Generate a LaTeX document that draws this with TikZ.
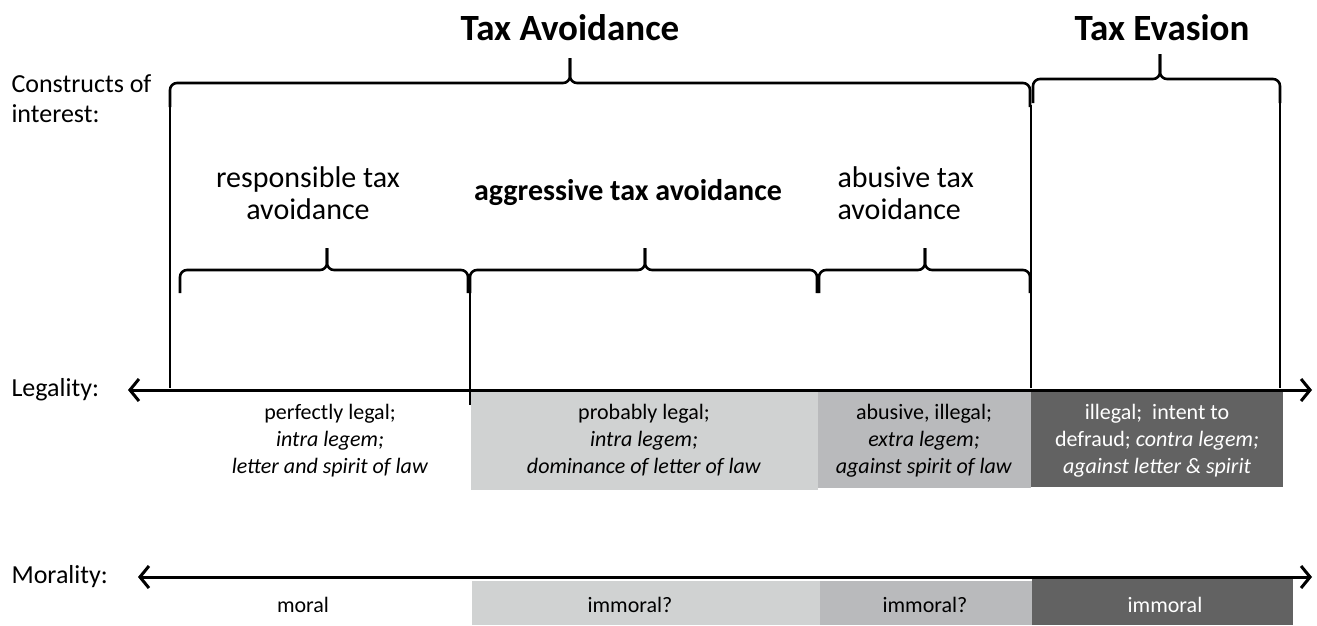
\documentclass[tikz,border=0pt]{standalone}
\usepackage{fontspec}
\setmainfont{Carlito}
\usetikzlibrary{arrows.meta}

\definecolor{lightbox}{HTML}{D0D2D2}
\definecolor{midbox}{HTML}{B9BABC}
\definecolor{darkbox}{HTML}{626262}

\tikzset{
    bracket/.style = {line width = 2.6pt, rounded corners = 7pt},
    guide/.style = {line width = 1.1pt},
    scalearrow/.style = {line width = 3pt, {Straight Barb[length = 9pt, width = 22pt]}-{Straight Barb[length = 9pt, width = 22pt]}},
    boxtext/.style = {font = {\fontsize{22}{27}\selectfont}, align = center, black},
    sidelabel/.style = {font = {\fontsize{26}{30}\selectfont}, align = left, anchor = west, black},
    kindlabel/.style = {font = {\fontsize{30}{32}\selectfont}, black},
    title/.style = {font = {\fontsize{37}{40}\selectfont\bfseries}, black}
}

\begin{document}
\begin{tikzpicture}[x = 1pt, y = -1pt]
            \useasboundingbox (0, 0) rectangle (1317, 625);

            % shaded columns
            \fill[lightbox] (471, 392) rectangle (818, 490);
            \fill[midbox] (818, 392) rectangle (1031, 488);
            \fill[darkbox] (1031, 390) rectangle (1283, 487);
            \fill[lightbox] (472, 581) rectangle (820, 625);
            \fill[midbox] (820, 581) rectangle (1032, 625);
            \fill[darkbox] (1032, 579) rectangle (1293, 625);

            % titles
            \node[title] (avoid) at (570, 28) {Tax Avoidance};
            \node[title] (evade) at (1162, 28) {Tax Evasion};

            % upper braces
            \draw[bracket] (170, 107) -- (170, 83) -- (570, 83) -- (570, 58);
            \draw[bracket] (570, 58) -- (570, 83) -- (1030, 83) -- (1030, 107);
            \draw[bracket] (1033, 103) -- (1033, 79) -- (1160, 79) -- (1160, 54);
            \draw[bracket] (1160, 54) -- (1160, 79) -- (1280, 79) -- (1280, 103);

            % lower braces
            \draw[bracket] (180, 293) -- (180, 270) -- (327, 270) -- (327, 248);
            \draw[bracket] (327, 248) -- (327, 270) -- (468, 270) -- (468, 293);
            \draw[bracket] (470, 293) -- (470, 270) -- (645, 270) -- (645, 248);
            \draw[bracket] (645, 248) -- (645, 270) -- (817, 270) -- (817, 293);
            \draw[bracket] (819, 293) -- (819, 270) -- (925, 270) -- (925, 248);
            \draw[bracket] (925, 248) -- (925, 270) -- (1030, 270) -- (1030, 293);

            % guide lines
            \draw[guide] (170, 107) -- (170, 388);
            \draw[guide] (1031, 105) -- (1031, 388);
            \draw[guide] (1280, 103) -- (1280, 388);
            \draw[guide] (470, 293) -- (470, 388);
            \draw[line width = 2.6pt] (470, 378) -- (470, 405);

            % side labels
            \node[sidelabel] (constructs) at (8, 99) {Constructs of\\interest:};
            \node[sidelabel] (legality) at (8, 390) {Legality:};
            \node[sidelabel] (morality) at (8, 577) {Morality:};

            % axes
            \coordinate (legleft) at (128, 390);
            \coordinate (legright) at (1312, 390);
            \coordinate (morleft) at (138, 577);
            \coordinate (morright) at (1312, 577);
            \draw[scalearrow] (legleft) -- (legright);
            \draw[scalearrow] (morleft) -- (morright);

            % kinds of avoidance
            \node[kindlabel, align = center] (responsible) at (308, 193) {responsible tax\\avoidance};
            \node[kindlabel, font = {\fontsize{30}{32}\selectfont\bfseries}] (aggressive) at (628, 193) {aggressive tax avoidance};
            \node[kindlabel, align = left, anchor = west] (abusive) at (834, 193) {abusive tax\\avoidance};

            % legality texts
            \node[boxtext, anchor = north] (legal1) at (330, 401) {perfectly legal;\\\textit{intra legem;}\\\textit{letter and spirit of law}};
            \node[boxtext, anchor = north] (legal2) at (644, 401) {probably legal;\\\textit{intra legem;}\\\textit{dominance of letter of law}};
            \node[boxtext, anchor = north] (legal3) at (924, 401) {abusive, illegal;\\\textit{extra legem;}\\\textit{against spirit of law}};
            \node[boxtext, anchor = north, white] (legal4) at (1157, 401) {illegal;\ \ intent to\\defraud; \textit{contra legem;}\\\textit{against letter \& spirit}};

            % morality texts
            \node[boxtext, anchor = base] (moral1) at (303, 612) {moral};
            \node[boxtext, anchor = base] (moral2) at (630, 612) {immoral?};
            \node[boxtext, anchor = base] (moral3) at (925, 612) {immoral?};
            \node[boxtext, anchor = base, white] (moral4) at (1165, 612) {immoral};
        \end{tikzpicture}
\end{document}
